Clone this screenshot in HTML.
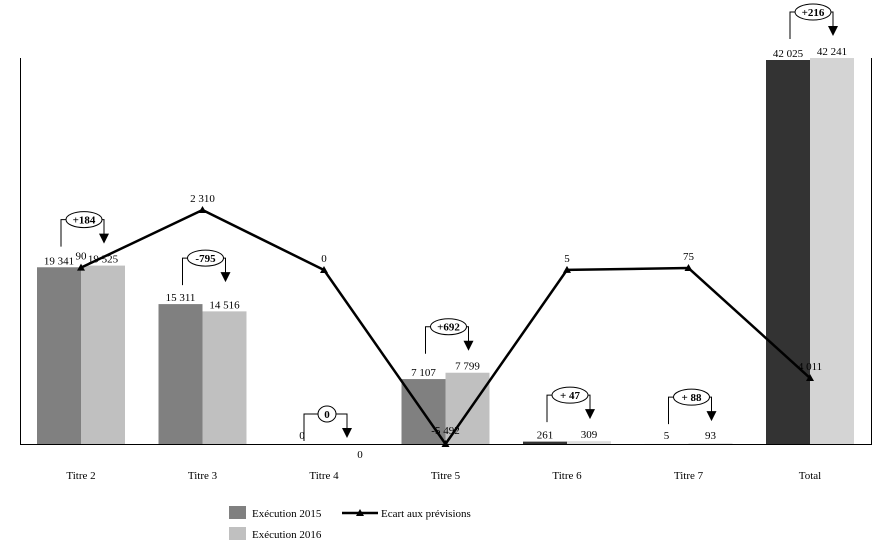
<!DOCTYPE html>
<html><head><meta charset="utf-8"><style>
html,body{margin:0;padding:0;background:#fff;}
svg text{font-family:"Liberation Serif",serif;font-size:11px;fill:#000;}
</style></head><body>
<svg id="chart" width="888" height="548" viewBox="0 0 888 548" xmlns="http://www.w3.org/2000/svg">
<line x1="20.5" y1="58" x2="20.5" y2="444" stroke="#000"/>
<line x1="871.5" y1="58" x2="871.5" y2="444" stroke="#000"/>
<g id="bars"></g><g id="callouts"></g><g id="line"></g>
<line x1="20" y1="444.5" x2="872" y2="444.5" stroke="#000"/>
<g id="labels"></g>
<g>
<rect x="229" y="506" width="17" height="13" fill="#808080"/>
<text x="252" y="517">Exécution 2015</text>
<rect x="229" y="527" width="17" height="13" fill="#c0c0c0"/>
<text x="252" y="538">Exécution 2016</text>
<line x1="342" y1="513" x2="378" y2="513" stroke="#000" stroke-width="2.5"/>
<polygon points="360,509 356,516 364,516" fill="#000"/>
<text x="381" y="517">Ecart aux prévisions</text>
</g>
</svg>
<script>
const categories=["Titre 2","Titre 3","Titre 4","Titre 5","Titre 6","Titre 7","Total"];
const exec2015=[19341,15311,0,7107,261,5,42025];
const exec2016=[19525,14516,0,7799,309,93,42241];
const ecartLabels=["90","2 310","0","-5 492","5","75","4 011"];
const ecartPlotted=[90,2310,0,-6700,5,75,-4160];
const deltaLabels=["+184","-795","0","+692","+ 47","+ 88","+216"];
const label2015=["19 341","15 311","0","7 107","261","5","42 025"];
const label2016=["19 525","14 516","0","7 799","309","93","42 241"];

const NS="http://www.w3.org/2000/svg";
const base=444;
const xC=i=>81+i*121.5;
const yB=v=>base-v*384/42025;
const yL=v=>270-v*0.02597;
function mk(tag,attrs,parent,txt){const e=document.createElementNS(NS,tag);for(const k in attrs)e.setAttribute(k,attrs[k]);if(txt!==undefined)e.textContent=txt;parent.appendChild(e);return e;}
const gB=document.getElementById('bars'),gC=document.getElementById('callouts'),gL=document.getElementById('line'),gT=document.getElementById('labels');
categories.forEach((c,i)=>{
 const cx=xC(i),last=i===categories.length-1;
 const y1=yB(exec2015[i]),y2=yB(exec2016[i]);
 const b1=mk('rect',{x:cx-44,y:y1,width:44,height:base-y1,fill:last?'#333333':(i===4?'#333333':'#808080')},gB);
 
 
 const b2=mk('rect',{x:cx,y:y2,width:44,height:base-y2,fill:last?'#d4d4d4':(i>=4?'#dddddd':'#c0c0c0')},gB);
 
 
 const t1=mk('text',{x:cx-22,y:Math.min(y1,base-2)-3,'text-anchor':'middle'},gT,label2015[i]);
 
 
 const t2y=i===2?458:Math.min(y2,base-2)-3;
 const t2=mk('text',{x:cx+(i===2?36:22),y:t2y,'text-anchor':'middle'},gT,label2016[i]);
 
 
 const ct=mk('text',{x:cx,y:479,'text-anchor':'middle'},gT,c);
 
 
 const top=Math.min(y1,y2);
 const ey=(exec2015[i]===0&&exec2016[i]===0)?414:Math.min(top-46,406);
 const g=mk('g',{},gC);
 
 
 mk('path',{d:`M${cx-20} ${ey+27} V${ey} H${cx+23} V${ey+16}`,fill:'none',stroke:'#000'},g);
 mk('polygon',{points:`${cx+18},${ey+14} ${cx+28},${ey+14} ${cx+23},${ey+24}`,fill:'#000'},g);
 const w=deltaLabels[i].length>2?18:9;
 mk('ellipse',{cx:cx+3,cy:ey,rx:w,ry:8,fill:'#fff',stroke:'#000'},g);
 mk('text',{x:cx+3,y:ey+4,'text-anchor':'middle','font-weight':'bold'},g,deltaLabels[i]);
});
const pts=ecartPlotted.map((v,i)=>[xC(i),yL(v)]);
const pl=mk('polyline',{points:pts.map(p=>p.join(',')).join(' '),fill:'none',stroke:'#000','stroke-width':2.5,'stroke-linejoin':'round'},gL);


pts.forEach((p,i)=>{
 const m=mk('polygon',{points:`${p[0]},${p[1]-4} ${p[0]-4},${p[1]+3} ${p[0]+4},${p[1]+3}`,fill:'#000'},gL);
 
 
 const t=mk('text',{x:p[0],y:p[1]-(i===3?10:8),'text-anchor':'middle'},gT,ecartLabels[i]);
 
 
});
</script>
</body></html>
